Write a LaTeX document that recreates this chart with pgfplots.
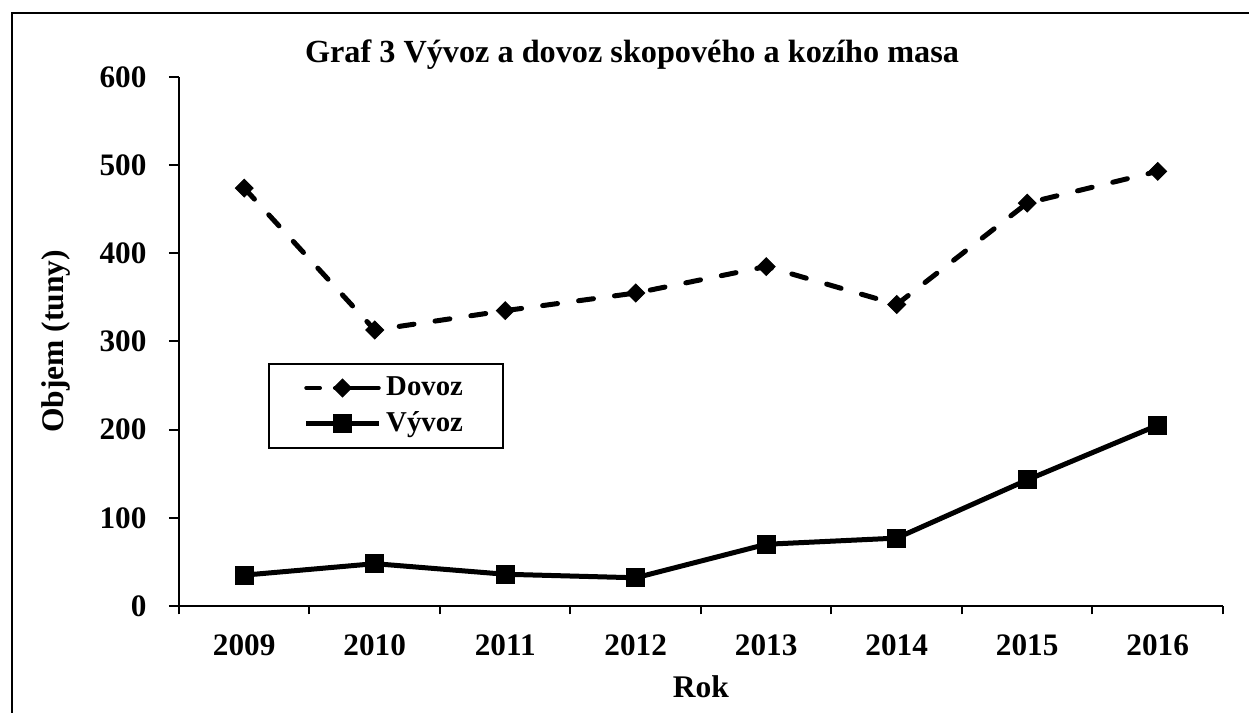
\documentclass[border=0pt]{standalone}
\usepackage{fontspec}
\setmainfont{Liberation Serif}
\usepackage{pgfplots}
\pgfplotsset{compat=1.18}
\begin{document}
\begin{tikzpicture}
\path[use as bounding box] (0pt,0pt) rectangle (499.6pt,285.2pt);
\draw[line width=0.8pt] (4.8pt,-2pt) -- (4.8pt,280.1pt) -- (502pt,280.1pt);
\node[font=\fontsize{12.9pt}{15pt}\selectfont\bfseries] at (252.8pt,263.2pt) {Graf 3 Vývoz a dovoz skopového a kozího masa};
\begin{axis}[
  at={(71.6pt,42.8pt)}, anchor=south west,
  scale only axis, width=417.6pt, height=211.6pt,
  xmin=-0.5, xmax=7.5, ymin=0, ymax=600,
  axis x line=bottom, axis y line=left,
  axis line style={line width=0.8pt, -},
  every tick/.style={line width=0.8pt, black},
  tick align=outside,
  xtick={0,...,7}, major x tick style={draw=none},
  xticklabels={2009,2010,2011,2012,2013,2014,2015,2016},
  minor xtick={-0.5,0.5,...,7.5},
  minor tick length=3.4pt,
  major tick length=4pt,
  ytick={0,100,...,600},
  /pgf/number format/assume math mode=true,
  ticklabel style={font=\fontsize{12.5pt}{14pt}\selectfont\bfseries},
  xticklabel style={yshift=-4pt},
  yticklabel style={xshift=-5.5pt},
  xlabel={Rok}, ylabel={Objem (tuny)},
  label style={font=\fontsize{12.6pt}{14pt}\selectfont\bfseries},
  xlabel style={yshift=-1pt},
  ylabel style={yshift=5pt},
  clip=false,
  legend style={at={(0.085,0.459)}, anchor=north west, draw=black, line width=0.8pt,
    font=\fontsize{11.5pt}{13pt}\selectfont\bfseries, inner xsep=14pt, inner ysep=3pt,
    row sep=1pt},
  legend cell align=left,
  legend image code/.code={\draw[mark repeat=2,mark phase=2,#1] plot coordinates {(0pt,0pt) (14.5pt,0pt) (29pt,0pt)};},
]
\addplot[black, line width=2pt, line cap=round, dash pattern=on 6pt off 8.5pt,
  mark=square*, mark size=2.5pt, mark options={solid, rotate=45, line width=0.4pt},
  legend image post style={line width=1.6pt, dash pattern=on 5.5pt off 6pt on 30pt}]
  coordinates {(0,474) (1,313) (2,335) (3,355) (4,385) (5,342) (6,457) (7,493)};
\addlegendentry{Dovoz}
\addplot[black, line width=2pt,
  mark=square*, mark size=3.6pt, mark options={solid, line width=0.4pt}]
  coordinates {(0,35) (1,48) (2,36) (3,32) (4,70) (5,77) (6,143) (7,205)};
\addlegendentry{Vývoz}
\end{axis}
\end{tikzpicture}
\end{document}
